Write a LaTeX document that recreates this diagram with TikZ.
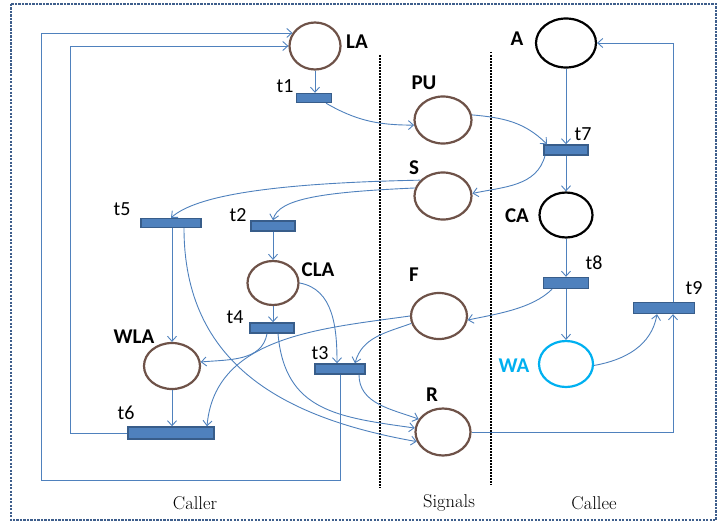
\documentclass[tikz,border=0pt]{standalone}
\usepackage{fontspec}
\newfontfamily\carl{Carlito}
\usetikzlibrary{shapes.geometric,arrows.meta,calc}
\definecolor{arcblue}{RGB}{79,129,189}
\definecolor{placebrown}{RGB}{110,82,72}
\definecolor{transfill}{RGB}{79,129,189}
\definecolor{transdraw}{RGB}{56,93,138}
\definecolor{wacyan}{RGB}{0,176,240}
\definecolor{framecol}{RGB}{62,94,140}
\begin{document}
\begin{tikzpicture}[x=1pt,y=1pt,
  place/.style={ellipse, draw=placebrown, line width=2.2pt, inner sep=0pt},
  trans/.style={rectangle, fill=transfill, draw=transdraw, line width=1.4pt, inner sep=0pt},
  plab/.style={font=\carl\bfseries\fontsize{21}{24}\selectfont, inner sep=0pt},
  tlab/.style={font=\carl\fontsize{20}{23}\selectfont, inner sep=0pt},
  zlab/.style={font=\fontsize{18.5}{21}\selectfont, inner sep=0pt},
  arc/.style={draw=arcblue, line width=0.9pt, -{Straight Barb[length=5pt,width=9pt]}},
  sep/.style={draw=black, line width=1.8pt, dash pattern=on 1.5pt off 1.5pt}
]
\useasboundingbox (0,0) rectangle (719,-527);
\draw[framecol, line width=2.2pt, dash pattern=on 2.2pt off 1.3pt] (11,-4) rectangle (716,-520);

% separators
\draw[sep] (380,-55) -- (380,-488);
\draw[sep] (491,-52) -- (491,-485);

% places
\node[place, minimum width=51pt, minimum height=47pt] (LA) at (315,-46) {};
\node[place, minimum width=57pt, minimum height=47pt] (PU) at (443,-120) {};
\node[place, minimum width=57pt, minimum height=47pt] (S) at (443,-196) {};
\node[place, draw=black, minimum width=60pt, minimum height=49pt] (A) at (566,-43) {};
\node[place, draw=black, minimum width=53pt, minimum height=45pt] (CA) at (566,-215) {};
\node[place, minimum width=51pt, minimum height=44pt] (CLA) at (273,-283) {};
\node[place, minimum width=56pt, minimum height=46pt] (WLA) at (172,-366) {};
\node[place, minimum width=56pt, minimum height=46pt] (F) at (439,-316) {};
\node[place, minimum width=55pt, minimum height=47pt] (R) at (443,-432) {};
\node[place, draw=wacyan, minimum width=54pt, minimum height=46pt] (WA) at (566,-364) {};

% transitions
\node[trans, minimum width=35pt, minimum height=9pt] (t1) at (314,-98) {};
\node[trans, minimum width=60pt, minimum height=9pt] (t5) at (171,-223) {};
\node[trans, minimum width=44pt, minimum height=10pt] (t2) at (273,-226) {};
\node[trans, minimum width=44pt, minimum height=10pt] (t7) at (566,-150) {};
\node[trans, minimum width=44pt, minimum height=10pt] (t4) at (272,-328) {};
\node[trans, minimum width=50pt, minimum height=10pt] (t3) at (340,-369) {};
\node[trans, minimum width=86pt, minimum height=12pt] (t6) at (171,-433) {};
\node[trans, minimum width=45pt, minimum height=11pt] (t8) at (566,-283) {};
\node[trans, minimum width=61pt, minimum height=11pt] (t9) at (664,-308) {};

% place labels
\node[plab] (lLA) at (357,-42) {LA};
\node[plab] (lPU) at (424,-83) {PU};
\node[plab] (lS) at (414,-168) {S};
\node[plab] (lA) at (517,-39) {A};
\node[plab] (lCA) at (517,-216) {CA};
\node[plab] (lCLA) at (318,-270) {CLA};
\node[plab] (lWLA) at (134,-337) {WLA};
\node[plab] (lF) at (414,-275) {F};
\node[plab] (lR) at (432,-395) {R};
\node[plab, text=wacyan] (lWA) at (514,-366) {WA};

% transition labels
\node[tlab] (lt1) at (285,-86) {t1};
\node[tlab] (lt5) at (122,-209) {t5};
\node[tlab] (lt2) at (238,-215) {t2};
\node[tlab] (lt7) at (583,-134) {t7};
\node[tlab] (lt4) at (235,-317) {t4};
\node[tlab] (lt3) at (320,-353) {t3};
\node[tlab] (lt6) at (126,-413) {t6};
\node[tlab] (lt8) at (594,-263) {t8};
\node[tlab] (lt9) at (694,-288) {t9};

% zone labels
\node[zlab] (zCaller) at (195,-503) {Caller};
\node[zlab] (zSignals) at (449,-503) {Signals};
\node[zlab] (zCallee) at (594,-503) {Callee};

% arcs
\draw[arc] (LA.south) -- (LA.south |- t1.north);
\draw[arc] ([xshift=12pt]t1.south) to[out=-30,in=180] (PU.190);
\draw[arc] (PU.10) to[out=-5,in=135] ([xshift=-19pt]t7.north);
\draw[arc] (A.south) -- (A.south |- t7.north);
\draw[arc] ([xshift=-21pt]t7.south) to[out=-105,in=12] (S.5);
\draw[arc] (t7.south) -- (t7.south |- CA.north);
\draw[arc] (S.145) .. controls +(-150,-3) and +(25,22) .. (t5.north);
\draw[arc] (S.164) .. controls +(-90,-4) and +(5,22) .. (t2.north);
\draw[arc] (t2.south) -- (t2.south |- CLA.north);
\draw[arc] (WLA.north |- t5.south) -- (WLA.north);
\draw[arc] ([xshift=13pt]t5.south) to[out=-90,in=170,looseness=1.1] (R.200);
\draw[arc] (CLA.south) -- (CLA.south |- t4.north);
\draw[arc] (CLA.east) to[out=-10,in=90] ([xshift=-3pt]t3.north);
\draw[arc] ([xshift=-5pt]t4.south) to[out=-100,in=5] (WLA.8);
\draw[arc] ([xshift=6pt]t4.south) to[out=-85,in=172,looseness=1.2] (R.172);
\draw[arc] ([xshift=19pt]t3.south) to[out=-90,in=160] (R.152);
\draw[arc] (F.180) to[out=188,in=85] ([xshift=36pt]t6.north);
\draw[arc] (F.195) to[out=200,in=75] ([xshift=15pt]t3.north);
\draw[arc] (WLA.south) -- (WLA.south |- t6.north);
\draw[arc] ([xshift=-14pt]t8.south) to[out=-135,in=12,looseness=0.8] (F.352);
\draw[arc] (CA.south) -- (CA.south |- t8.north);
\draw[arc] (t8.south) -- (t8.south |- WA.north);
\draw[arc] (WA.357) to[out=10,in=-100] ([xshift=-7pt]t9.south);
\draw[arc] (R.east) -| ([xshift=9pt]t9.south);
\draw[arc] ([xshift=9pt]t9.north) |- (A.east);
\draw[arc] (t6.west) -| ([xshift=-218pt]LA.west) -- (LA.west);
\coordinate (c3) at (41,-480);
\draw[arc] (t3.south) |- (c3) |- (LA.150);
\end{tikzpicture}
\end{document}
